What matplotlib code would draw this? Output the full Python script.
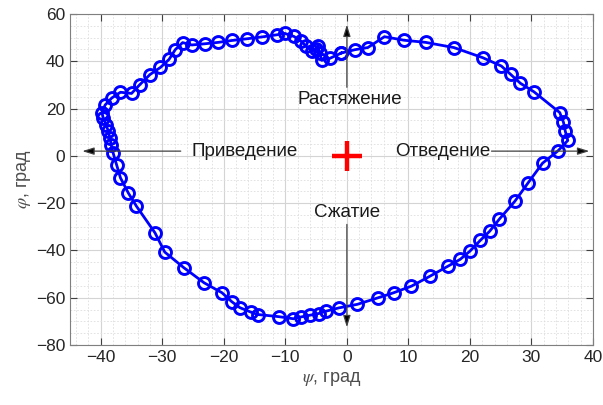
#!/usr/bin/env python3
"""Joint rotation loop: phi versus psi with direction labels."""

import matplotlib

matplotlib.use("Agg")
import matplotlib.pyplot as plt
from matplotlib.ticker import MultipleLocator

# traced loop, clockwise from the top centre
psi = [
    -0.9, 1.3, 3.4, 6.1, 9.3, 12.8, 17.4, 22.1, 25.1, 26.6, 28.2, 30.4,
    34.6, 35.2, 35.5, 35.9, 34.3, 31.8, 29.4, 27.3, 24.8, 23.2, 21.7, 20.0,
    18.4, 16.4, 13.5, 10.5, 7.6, 5.1, 1.7, -1.3, -3.4, -4.6, -6.0, -7.4,
    -8.7, -11.1, -14.5, -15.6, -17.4, -18.7, -20.3, -23.2, -26.5, -29.6,
    -31.2, -34.2, -35.5, -36.8, -37.4, -38.0, -38.3, -38.5, -38.8, -39.1, -39.6,
    -39.8, -39.3, -38.2, -36.8, -35.0, -33.7, -32.0, -30.3, -28.9, -27.9,
    -26.7, -25.2, -23.1, -20.9, -18.7, -16.3, -13.8, -11.4, -10.1, -8.6,
    -7.4, -6.6, -5.7, -5.1, -4.7, -4.4, -4.1, -2.8, -0.9,
]
phi = [
    43.5, 44.9, 45.8, 50.4, 48.9, 48.0, 45.8, 41.5, 38.0, 34.5, 30.7, 27.1,
    18.3, 14.2, 10.4, 6.5, 2.1, -3.1, -11.6, -19.2, -26.7, -31.9, -35.7, -40.3,
    -43.8, -46.7, -50.9, -55.1, -57.9, -60.0, -62.8, -64.3, -65.7, -66.7, -67.4, -68.1,
    -68.9, -68.0, -67.1, -66.1, -64.2, -61.7, -57.9, -53.7, -47.3, -40.7,
    -32.5, -21.3, -15.8, -9.3, -4.0, 1.3, 4.5, 7.6, 10.4, 13.2, 16.1,
    18.2, 21.5, 24.5, 26.9, 26.4, 30.0, 34.4, 37.4, 40.8, 44.9,
    47.9, 46.9, 47.4, 48.0, 48.8, 49.5, 50.3, 51.2, 51.8, 50.5,
    48.4, 46.3, 44.4, 45.2, 46.6, 43.5, 40.4, 41.2, 43.5,
]

# direction labels: (text, text x, text y, arrow start, arrow tip)
labels = [
    ("Растяжение", 0.5, 23.8, (0, 29), (0, 55.5)),
    ("Сжатие", 0.0, -24.0, (0, -29), (0, -72.5)),
    ("Приведение", -16.6, 1.8, (-27.0, 2.0), (-43.0, 2.0)),
    ("Отведение", 15.6, 1.8, (23.5, 2.0), (39.4, 2.0)),
]

plt.rcParams["font.family"] = ["Liberation Sans", "DejaVu Sans"]
plt.rcParams["mathtext.fontset"] = "stix"

fig = plt.figure(figsize=(6.03, 4.05), dpi=100)
ax = fig.add_axes([70 / 603, 60 / 405, 523 / 603, 331 / 405])

ax.set_xlim(-45, 40)
ax.set_ylim(-80, 60)
ax.xaxis.set_major_locator(MultipleLocator(10))
ax.yaxis.set_major_locator(MultipleLocator(20))
ax.xaxis.set_minor_locator(MultipleLocator(2))
ax.yaxis.set_minor_locator(MultipleLocator(5))
ax.grid(which="major", color="#d4d4d4", lw=0.8)
ax.grid(which="minor", color="#dedede", lw=0.6, ls=(0, (2, 2)))
ax.set_axisbelow(True)
ax.tick_params(which="major", direction="in", length=5, width=0.8,
               colors="#404040", labelcolor="#262626", labelsize=12.5,
               top=True, right=True)
ax.tick_params(which="minor", length=0)
for spine in ax.spines.values():
    spine.set_color("#7f7f7f")
    spine.set_linewidth(0.8)

ax.plot(psi, phi, color="#0000ff", lw=2, marker="o", ms=8.6,
        mfc="none", mew=2.1, zorder=3)

for text, tx, ty, start, tip in labels:
    ax.annotate("", xy=tip, xytext=start,
                arrowprops=dict(arrowstyle="-|>,head_length=0.7,head_width=0.22",
                                color="#404040", lw=0.9, shrinkA=0, shrinkB=0,
                                fc="k"), zorder=4)
    ax.text(tx, ty, text, ha="center", va="center", fontsize=13.5,
            color="#1a1a1a", zorder=5)

ax.plot([0], [0], marker="+", color="#ff0000", ms=22, mew=3.2, zorder=5)

ax.set_xlabel(r"$\psi$, град", fontsize=13, color="#4d4d4d", labelpad=4)
ax.set_ylabel(r"$\varphi$, град", fontsize=13, color="#4d4d4d", labelpad=2)

fig.savefig("out.png", dpi=100)
